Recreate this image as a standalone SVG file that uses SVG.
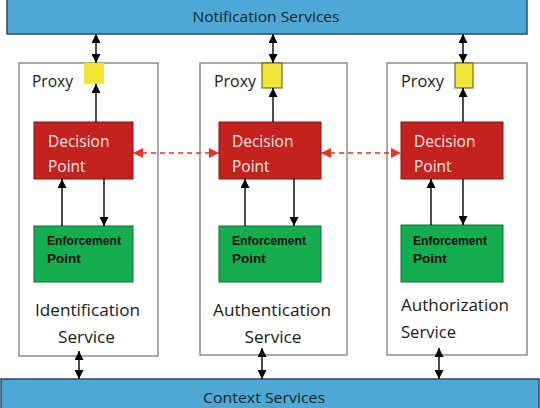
<svg xmlns="http://www.w3.org/2000/svg" width="540" height="408" viewBox="0 0 540 408">
<defs>
<marker id="ah" viewBox="0 0 10 10" refX="10" refY="5" markerWidth="9" markerHeight="9" markerUnits="userSpaceOnUse" orient="auto-start-reverse"><path d="M0,0 L10,5 L0,10 z" fill="#000"/></marker>
<marker id="rh" viewBox="0 0 10 10" refX="10" refY="5" markerWidth="10" markerHeight="10" markerUnits="userSpaceOnUse" orient="auto-start-reverse"><path d="M0,0 L10,5 L0,10 z" fill="#e8322a"/></marker>
</defs>
<style>
.bar{fill:#4fa7d6;stroke:#1f4f6e;stroke-width:1.5}
.cont{fill:#fff;stroke:#7f7f7f;stroke-width:1.3}
.dec{fill:#c4221e;stroke:#8a1410;stroke-width:1}
.enf{fill:#14ad50;stroke:#0e6e33;stroke-width:1}
.yel{fill:#f2e53a;stroke:#5a5400;stroke-width:1}
.t{font-family:"Open Sans","Liberation Sans",sans-serif;font-size:17px;fill:#1a1a1a}
.bt{font-family:"Open Sans","Liberation Sans",sans-serif;font-size:15px;fill:#0f2a2a}
.dt{font-family:"Open Sans","Liberation Sans",sans-serif;font-size:15.5px;fill:#f6e6e6}
.et{font-family:"Liberation Sans",Arial,sans-serif;font-size:13.5px;font-weight:bold;fill:#111}
.ln{stroke:#000;stroke-width:1.4;fill:none}
.dl{stroke:#e8322a;stroke-width:1.6;stroke-dasharray:5,4;fill:none}
</style>
<g id="notification">
<rect class="bar" x="7" y="-2" width="520" height="36"/>
<text class="bt" x="266" y="22" text-anchor="middle" textLength="147" lengthAdjust="spacingAndGlyphs">Notification Services</text>
</g>
<g id="context">
<rect class="bar" x="1" y="379" width="538" height="32"/>
<text class="bt" x="264" y="403" text-anchor="middle" textLength="122" lengthAdjust="spacingAndGlyphs">Context Services</text>
</g>
<g id="identification">
<rect class="cont" x="19" y="63" width="139" height="293"/>
<text class="t" x="32" y="87" textLength="41" lengthAdjust="spacingAndGlyphs">Proxy</text>
<text class="t" x="87.5" y="316" text-anchor="middle" textLength="105" lengthAdjust="spacingAndGlyphs">Identification</text>
<text class="t" x="86.5" y="343" text-anchor="middle" textLength="57" lengthAdjust="spacingAndGlyphs">Service</text>
</g>
<g id="proxy1"><rect x="84" y="63" width="20" height="21" fill="#f2e53a"/></g>
<g id="decision1">
<rect class="dec" x="34" y="122" width="99" height="57"/>
<text class="dt" x="48" y="147">Decision</text>
<text class="dt" x="48" y="172">Point</text>
</g>
<g id="enforcement1">
<rect class="enf" x="34" y="226" width="99" height="56"/>
<text class="et" x="47" y="245" textLength="74" lengthAdjust="spacingAndGlyphs">Enforcement</text>
<text class="et" x="47" y="263">Point</text>
</g>
<g id="authentication">
<rect class="cont" x="200" y="63" width="147" height="292"/>
<text class="t" x="214" y="87" textLength="42" lengthAdjust="spacingAndGlyphs">Proxy</text>
<text class="t" x="272" y="316" text-anchor="middle" textLength="118" lengthAdjust="spacingAndGlyphs">Authentication</text>
<text class="t" x="273" y="343" text-anchor="middle" textLength="57" lengthAdjust="spacingAndGlyphs">Service</text>
</g>
<g id="proxy2"><rect class="yel" x="262" y="63" width="20" height="25"/></g>
<g id="decision2">
<rect class="dec" x="219" y="122" width="102" height="57"/>
<text class="dt" x="232" y="147">Decision</text>
<text class="dt" x="232" y="172">Point</text>
</g>
<g id="enforcement2">
<rect class="enf" x="219" y="226" width="102" height="56"/>
<text class="et" x="232" y="245" textLength="74" lengthAdjust="spacingAndGlyphs">Enforcement</text>
<text class="et" x="232" y="263">Point</text>
</g>
<g id="authorization">
<rect class="cont" x="387" y="63" width="140" height="292"/>
<text class="t" x="401" y="87" textLength="43" lengthAdjust="spacingAndGlyphs">Proxy</text>
<text class="t" x="401" y="311" textLength="108" lengthAdjust="spacingAndGlyphs">Authorization</text>
<text class="t" x="401" y="338" textLength="55" lengthAdjust="spacingAndGlyphs">Service</text>
</g>
<g id="proxy3"><rect class="yel" x="455" y="63" width="18" height="25"/></g>
<g id="decision3">
<rect class="dec" x="401" y="122" width="102" height="57"/>
<text class="dt" x="414" y="147">Decision</text>
<text class="dt" x="414" y="172">Point</text>
</g>
<g id="enforcement3">
<rect class="enf" x="401" y="225" width="102" height="57"/>
<text class="et" x="413" y="245" textLength="74" lengthAdjust="spacingAndGlyphs">Enforcement</text>
<text class="et" x="413" y="263">Point</text>
</g>
<g id="connectors">
<line class="ln" x1="96" y1="34" x2="96" y2="63" marker-start="url(#ah)" marker-end="url(#ah)"/>
<line class="ln" x1="273" y1="34" x2="273" y2="63" marker-start="url(#ah)" marker-end="url(#ah)"/>
<line class="ln" x1="463" y1="34" x2="463" y2="63" marker-start="url(#ah)" marker-end="url(#ah)"/>
<line class="ln" x1="96" y1="122" x2="96" y2="84" marker-end="url(#ah)"/>
<line class="ln" x1="273" y1="122" x2="273" y2="88" marker-end="url(#ah)"/>
<line class="ln" x1="463" y1="122" x2="463" y2="88" marker-end="url(#ah)"/>
<line class="ln" x1="62" y1="226" x2="62" y2="179" marker-end="url(#ah)"/>
<line class="ln" x1="104" y1="179" x2="104" y2="226" marker-end="url(#ah)"/>
<line class="ln" x1="245" y1="226" x2="245" y2="179" marker-end="url(#ah)"/>
<line class="ln" x1="294" y1="179" x2="294" y2="226" marker-end="url(#ah)"/>
<line class="ln" x1="431" y1="225" x2="431" y2="179" marker-end="url(#ah)"/>
<line class="ln" x1="463" y1="179" x2="463" y2="225" marker-end="url(#ah)"/>
<line class="dl" x1="133" y1="153" x2="219" y2="153" marker-start="url(#rh)" marker-end="url(#rh)"/>
<line class="dl" x1="321" y1="153" x2="401" y2="153" marker-start="url(#rh)" marker-end="url(#rh)"/>
<line class="ln" x1="79" y1="351" x2="79" y2="379" marker-start="url(#ah)" marker-end="url(#ah)"/>
<line class="ln" x1="262" y1="348" x2="262" y2="379" marker-start="url(#ah)" marker-end="url(#ah)"/>
<line class="ln" x1="439" y1="348" x2="439" y2="379" marker-start="url(#ah)" marker-end="url(#ah)"/>
</g>
</svg>
